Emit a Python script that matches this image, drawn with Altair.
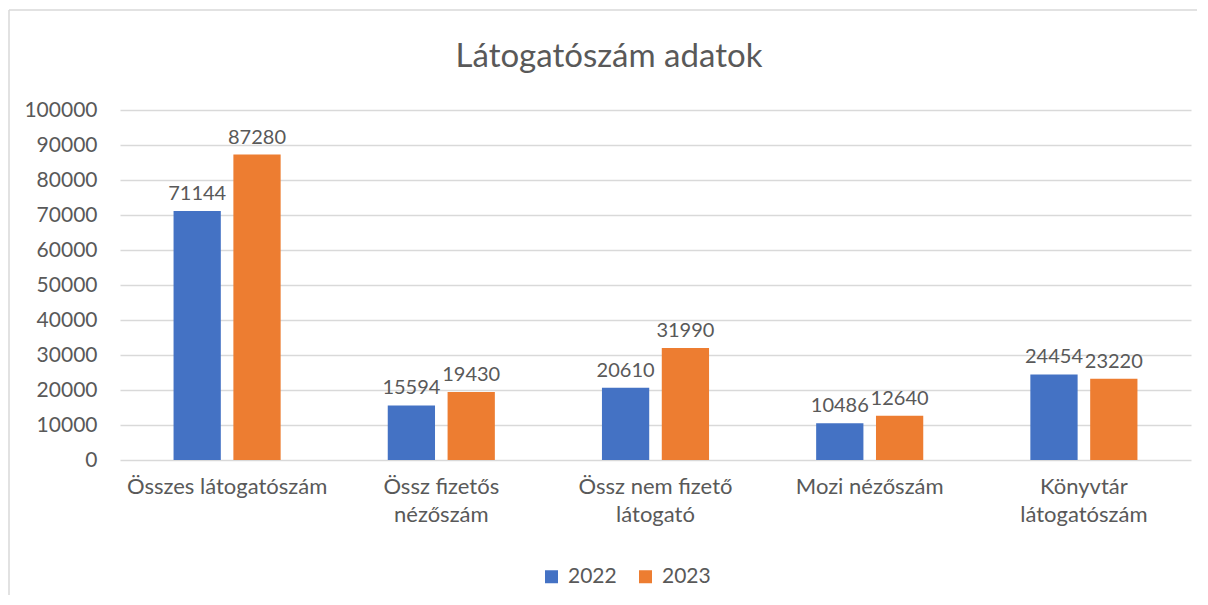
import altair as alt
import pandas as pd

categories = ["Összes látogatószám", "Össz fizetős|nézőszám", "Össz nem fizető|látogató",
              "Mozi nézőszám", "Könyvtár|látogatószám"]
years = ["2022", "2023"]
values_2022 = [71144, 15594, 20610, 10486, 24454]
values_2023 = [87280, 19430, 31990, 12640, 23220]
y_ticks = list(range(0, 100001, 10000))

rows = []
for c, v in zip(categories, values_2022):
    rows.append({"cat": c, "year": "2022", "value": v})
for c, v in zip(categories, values_2023):
    rows.append({"cat": c, "year": "2023", "value": v})
df = pd.DataFrame(rows)

FONT = "Lato"
GRAY = "#595959"
BORDER = "#D9D9D9"

x_enc = alt.X("cat:N", sort=categories, title=None,
              scale=alt.Scale(paddingInner=0.5, paddingOuter=0.25),
              axis=alt.Axis(labelAngle=0, labelExpr="split(datum.label, '|')",
                            labelFontSize=22, labelColor=GRAY, labelFont=FONT,
                            labelLineHeight=28, labelPadding=16, labelBaseline="top",
                            domain=False, ticks=False, grid=False, labelLimit=300))
xoff = alt.XOffset("year:N", sort=years, scale=alt.Scale(paddingInner=0.21, paddingOuter=0))
y_enc = alt.Y("value:Q", title=None,
              scale=alt.Scale(domain=[0, 100000], nice=False),
              axis=alt.Axis(values=y_ticks, format="d", labelOverlap=False,
                            labelFontSize=21, labelColor=GRAY, labelFont=FONT,
                            labelPadding=23, domain=False, ticks=False,
                            gridColor=BORDER, gridWidth=1.3))
color = alt.Color("year:N", sort=years,
                  scale=alt.Scale(domain=years, range=["#4472C4", "#ED7D31"]),
                  legend=alt.Legend(title=None, orient="none", legendX=421, legendY=456,
                                    direction="horizontal", symbolType="square",
                                    symbolSize=169, symbolStrokeWidth=0,
                                    labelFontSize=21, labelColor=GRAY, labelFont=FONT,
                                    labelOffset=6, columnPadding=18))

bars = alt.Chart(df).mark_bar().encode(x=x_enc, xOffset=xoff, y=y_enc, color=color)
labels = alt.Chart(df).mark_text(baseline="bottom", dy=-7, fontSize=20, font=FONT,
                                 color=GRAY).encode(
    x=x_enc, xOffset=xoff, y=y_enc, text="value:Q")

frame_df = pd.DataFrame({"a": [0]})
left_edge = alt.Chart(frame_df).mark_rule(color=BORDER, strokeWidth=1.5).encode(
    x=alt.value(-111), y=alt.value(-100), y2=alt.value(485))
top_edge = alt.Chart(frame_df).mark_rule(color=BORDER, strokeWidth=1.5).encode(
    x=alt.value(-111), x2=alt.value(1077), y=alt.value(-100))

chart = alt.layer(left_edge, top_edge, bars, labels).properties(
    width=1071, height=350,
    padding={"left": 0, "top": 1, "right": 0, "bottom": 0},
    title=alt.Title("Látogatószám adatok", fontSize=33, font=FONT, fontWeight="normal",
                    color=GRAY, anchor="middle", frame="bounds", dx=6, offset=-65),
).configure_view(strokeWidth=0)

chart.save("out.html", embed_options={"renderer": "svg", "actions": False})
